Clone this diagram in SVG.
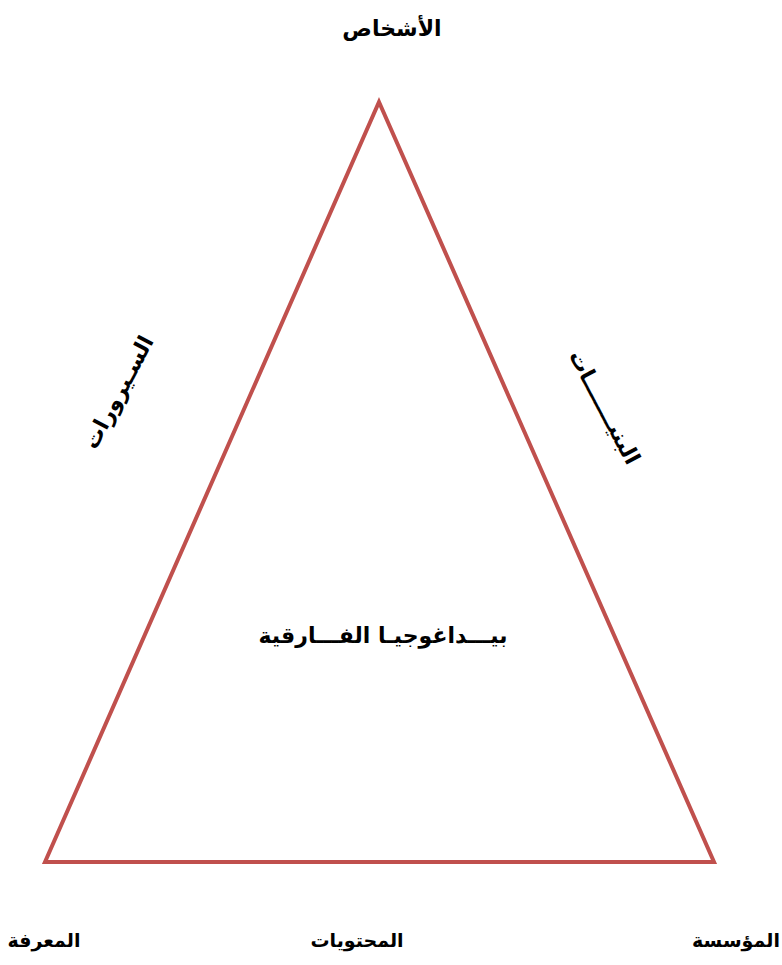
<svg xmlns="http://www.w3.org/2000/svg" width="782" height="965" viewBox="0 0 782 965">
<style>
.t{font-family:"DejaVu Sans",sans-serif;font-weight:bold;font-size:22px;fill:#000;text-anchor:middle;direction:rtl}
.b{font-size:19px}
.edge{fill:none;stroke:#C0504D;stroke-width:4;stroke-linejoin:miter}
</style>
<rect width="782" height="965" fill="#fff"/>
<g id="connectors">
<polygon class="edge" points="379,102 714,862 45,862"/>
</g>
<g id="n-top"><text class="t" x="392" y="36">الأشخاص</text></g>
<g id="n-left"><text class="t" x="118" y="400" transform="rotate(-62 118 392)">السـيرورات</text></g>
<g id="n-right"><text class="t" x="605" y="415" transform="rotate(62 605 407)">البنيـــــــات</text></g>
<g id="n-center"><text class="t" x="383" y="643">بيـــداغوجيـا الفـــارقية</text></g>
<g id="n-bl"><text class="t b" x="44" y="947">المعرفة</text></g>
<g id="n-bm"><text class="t b" x="357" y="947">المحتويات</text></g>
<g id="n-br"><text class="t b" x="736" y="947">المؤسسة</text></g>
</svg>
